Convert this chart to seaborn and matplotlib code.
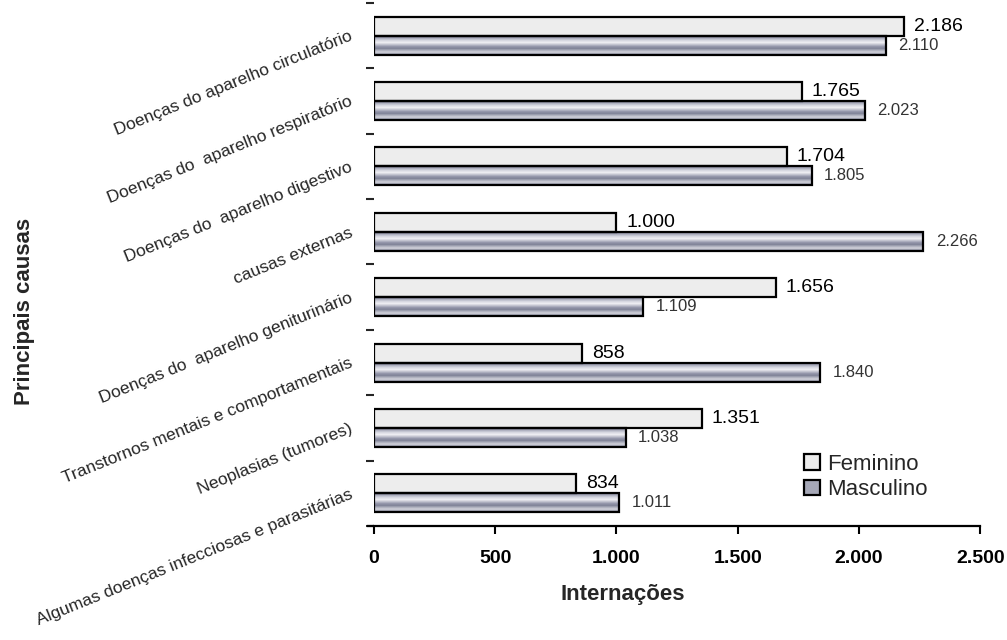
import numpy as np
import pandas as pd
import matplotlib
matplotlib.use('Agg')
import matplotlib.pyplot as plt
from matplotlib.ticker import FuncFormatter
import seaborn as sns

causas = ["Doenças do aparelho circulatório",
          "Doenças do  aparelho respiratório",
          "Doenças do  aparelho digestivo",
          "causas externas",
          "Doenças do  aparelho geniturinário",
          "Transtornos mentais e comportamentais",
          "Neoplasias (tumores)",
          "Algumas doenças infecciosas e parasitárias"]
feminino = [2186, 1765, 1704, 1000, 1656, 858, 1351, 834]
masculino = [2110, 2023, 1805, 2266, 1109, 1840, 1038, 1011]
sexos = ["Feminino", "Masculino"]
xticks = [0, 500, 1000, 1500, 2000, 2500]


def milhar(v, pos=None):
    return f"{int(v):,}".replace(",", ".")


df = pd.DataFrame({
    "causa": causas * 2,
    "valor": feminino + masculino,
    "sexo": [sexos[0]] * len(causas) + [sexos[1]] * len(causas),
})

sns.set_style("white")
plt.rcParams['font.family'] = ['Liberation Sans', 'DejaVu Sans']

fig = plt.figure(figsize=(10.07, 6.4), dpi=100)
ax = fig.add_axes([0.3714, 0.178, 0.602, 0.8175])

sns.barplot(data=df, y="causa", x="valor", hue="sexo", orient="h",
            palette={"Feminino": "#ededed", "Masculino": "#a6a8b7"},
            edgecolor="black", linewidth=1.6, width=0.58, ax=ax)

# metallic stripes on the Masculino bars
stripes = np.array([[0x8e, 0x90, 0xa4], [0xb8, 0xba, 0xc8], [0xdc, 0xdd, 0xe5],
                    [0xee, 0xee, 0xf2], [0xc2, 0xc4, 0xd0], [0x96, 0x98, 0xac],
                    [0x80, 0x83, 0x98], [0xac, 0xae, 0xbc], [0xd2, 0xd3, 0xdb],
                    [0x9a, 0x9c, 0xae]]) / 255.0
grad = stripes[:, None, :]
for p in ax.containers[1]:
    x0, y0, w, h = p.get_x(), p.get_y(), p.get_width(), p.get_height()
    ax.imshow(grad, extent=(x0, x0 + w, y0 + h, y0), aspect='auto',
              interpolation='bilinear', zorder=p.get_zorder() - 0.01)
    p.set_facecolor('none')

ax.bar_label(ax.containers[0], labels=[milhar(v) for v in feminino],
             padding=7, fontsize=14, color='black')
ax.bar_label(ax.containers[1], labels=[milhar(v) for v in masculino],
             padding=9, fontsize=12, color='#333333')

ax.set_xlim(0, 2500)
ax.set_ylim(len(causas) - 0.5, -0.5)
ax.set_xticks(xticks)
ax.xaxis.set_major_formatter(FuncFormatter(milhar))
for t in ax.get_xticklabels():
    t.set_fontweight('bold')
    t.set_fontsize(14)
ax.tick_params(axis='x', direction='out', length=6, width=1.5, pad=11,
               bottom=True, colors='black')

ax.set_yticks(np.arange(-0.5, len(causas), 1), minor=True)
ax.tick_params(axis='y', which='minor', direction='out', length=6,
               width=1.5, left=True)
ax.tick_params(axis='y', which='major', length=0, pad=16)
ax.set_yticklabels(causas, rotation=22, ha='right', va='center',
                   rotation_mode='anchor', fontsize=12.5)

for s in ['top', 'right', 'left']:
    ax.spines[s].set_visible(False)
ax.spines['bottom'].set_linewidth(1.6)
ax.spines['bottom'].set_color('black')
ax.plot([-0.012, 0], [0, 0], transform=ax.transAxes, color='black',
        lw=1.6, clip_on=False, solid_capstyle='butt')

ax.set_xlabel("Internações", fontsize=16, fontweight='bold')
ax.xaxis.set_label_coords(0.41, -0.11)
ax.set_ylabel("Principais causas", fontsize=16, fontweight='bold')
ax.yaxis.set_label_coords(-0.56, 0.41)

leg = ax.legend(loc='upper left', bbox_to_anchor=(0.71, 0.138),
                frameon=False, fontsize=16, handlelength=0.7,
                handleheight=0.7, handletextpad=0.3, labelspacing=0.2,
                borderpad=0, borderaxespad=0)
leg.legend_handles[1].set_facecolor('#a6a8b7')

fig.savefig("out.png", dpi=100)
